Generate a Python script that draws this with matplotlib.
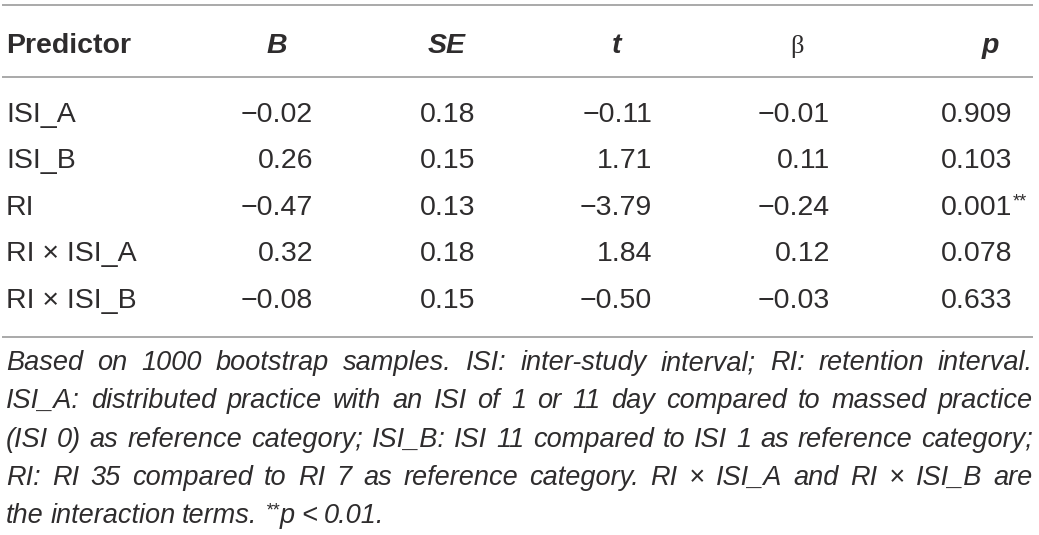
import matplotlib
matplotlib.use("Agg")
import matplotlib.pyplot as plt
import numpy as np

# table contents
predictors = ["ISI_A", "ISI_B", "RI", "RI \u00d7 ISI_A", "RI \u00d7 ISI_B"]
B_vals = [-0.02, 0.26, -0.47, 0.32, -0.08]
SE_vals = [0.18, 0.15, 0.13, 0.18, 0.15]
t_vals = [-0.11, 1.71, -3.79, 1.84, -0.50]
beta_vals = [-0.01, 0.11, -0.24, 0.12, -0.03]
p_vals = [0.909, 0.103, 0.001, 0.078, 0.633]
p_marks = ["", "", "**", "", ""]

headers = ["B", "SE", "t", "\u03b2", "p"]

note_lines = [
    "Based on 1000 bootstrap samples. ISI: inter-study interval; RI: retention interval.",
    "ISI_A: distributed practice with an ISI of 1 or 11 day compared to massed practice",
    "(ISI 0) as reference category; ISI_B: ISI 11 compared to ISI 1 as reference category;",
    "RI: RI 35 compared to RI 7 as reference category. RI \u00d7 ISI_A and RI \u00d7 ISI_B are",
    "the interaction terms. p < 0.01.",
]
star_before = "p"   # the "**" superscript sits in front of this word on the last line

FONT = ["Liberation Sans", "DejaVu Sans"]
TXT = "#2e2c2d"
RULE = "#a3a3a3"
W, H = 1039, 535


def fmt(v, nd):
    s = f"{v:.{nd}f}"
    return s.replace("-", "\u2212")


def new_canvas(h=H):
    f = plt.figure(figsize=(W / 100, h / 100), dpi=100)
    a = f.add_axes([0, 0, 1, 1])
    a.set_xlim(0, W)
    a.set_ylim(h, 0)
    a.axis("off")
    return f, a


fig, ax = new_canvas()

# rules
for yy in [5, 77, 337]:
    ax.plot([2, 1033], [yy, yy], color=RULE, lw=1.3, solid_capstyle="butt")

# header row
hy = 53
ax.text(6, hy, "Predictor", fontsize=20.5, fontweight="bold", family=FONT,
        color=TXT, va="baseline", ha="left")
head_x = [277, 447, 617, 797, 990]
for hx, h in zip(head_x, headers):
    if h == "\u03b2":
        ax.text(hx, hy, h, fontsize=19, family="Liberation Serif", color=TXT,
                va="baseline", ha="center")
    else:
        ax.text(hx, hy, h, fontsize=20.5, fontweight="bold", style="italic",
                family=FONT, color=TXT, va="baseline", ha="center")

# body rows
col_right = [313, 475, 652, 830, 1012]
row_base = [122, 168, 215, 261, 308]
for i, yb in enumerate(row_base):
    kw = dict(fontsize=20.5, family=FONT, color=TXT, va="baseline")
    ax.text(6, yb, predictors[i], ha="left", **kw)
    cells = [fmt(B_vals[i], 2), fmt(SE_vals[i], 2), fmt(t_vals[i], 2),
             fmt(beta_vals[i], 2), fmt(p_vals[i], 3)]
    for cx, c in zip(col_right, cells):
        ax.text(cx, yb, c, ha="right", **kw)
    if p_marks[i]:
        ax.text(col_right[4] + 1, yb - 9, p_marks[i], ha="left", fontsize=13,
                family=FONT, color=TXT, va="baseline")

# ---------------- footnote ----------------
note_base = [370, 408, 447, 485, 523]
left, right = 6, 1033
nfs = 19.5
nkw = dict(fontsize=nfs, style="italic", family=FONT, va="baseline", ha="left")

tf, tax = new_canvas()
tf.canvas.draw()
trend = tf.canvas.get_renderer()


def width(s):
    t = tax.text(0, 0, s, **nkw)
    w = t.get_window_extent(trend).width
    t.remove()
    return w


words_all = []
for li, line in enumerate(note_lines):
    for w in line.split(" "):
        words_all.append((li, w, width(w)))
plt.close(tf)

# lone words holding ';' or '_' come out a few px low; the same word
# without those marks has the same top edge, so use it to measure the drop
ncol, cell_w, cell_h = 3, 340, 45
nrow = (len(words_all) + ncol - 1) // ncol
gh = nrow * cell_h + 40


def tops(strings):
    f, a = new_canvas(gh)
    spots = []
    for k, s in enumerate(strings):
        cx = 20 + (k % ncol) * cell_w
        cy = 35 + (k // ncol) * cell_h
        a.text(cx, cy, s, color="k", **nkw)
        spots.append((cx, cy))
    f.canvas.draw()
    img = np.asarray(f.canvas.buffer_rgba())[..., 0] < 160
    plt.close(f)
    res = []
    for cx, cy in spots:
        rows = np.where(img[cy - 32:cy + 10, cx - 10:cx + cell_w - 20].any(axis=1))[0]
        res.append(rows[0] if len(rows) else 0)
    return np.array(res)


plain = [w for _, w, _ in words_all]
clean = [w.replace("_", "").replace(";", "") or w for w in plain]
shift = tops(clean) - tops(plain)
shift = np.where(np.abs(shift) <= 8, shift, 0)

# justify lines 1-4, last line keeps natural spacing
for li, yb in enumerate(note_base):
    items = [(w, ww, int(s)) for (l, w, ww), s in zip(words_all, shift) if l == li]
    if li < len(note_lines) - 1:
        gap = (right - left - sum(it[1] for it in items)) / (len(items) - 1)
    else:
        gap = 6.5
    x = left
    for w, ww, s in items:
        if li == len(note_lines) - 1 and w == star_before:
            ax.text(x + 2, yb - 8, "**", fontsize=13, style="italic",
                    family=FONT, color=TXT, va="baseline", ha="left")
            x += 16
        ax.text(x, yb + s, w, color=TXT, **nkw)
        x += ww + gap

fig.savefig("out.png", dpi=100)
